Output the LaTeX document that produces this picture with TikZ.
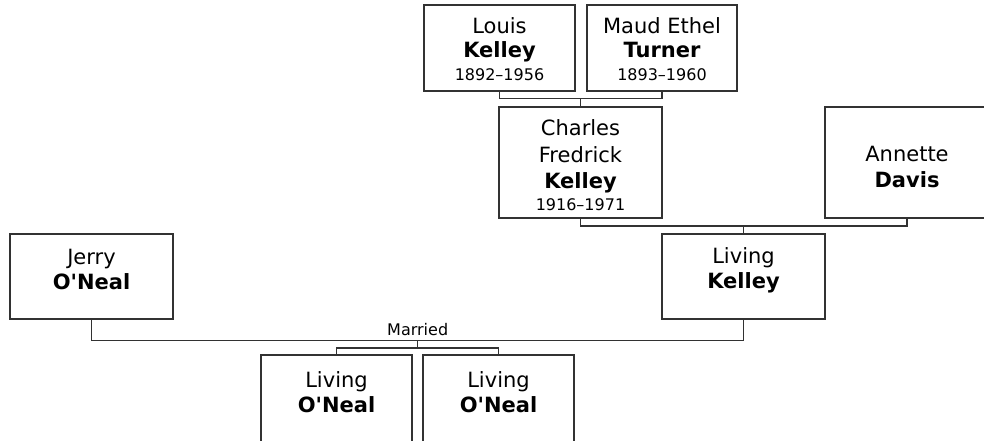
\documentclass[tikz,border=0pt]{standalone}
\usepackage{fontspec}
\setmainfont{DejaVu Sans}
\definecolor{lc}{RGB}{50,50,50}
\begin{document}
\begin{tikzpicture}[x=1pt,y=-1pt,
  box/.style={draw=lc, line width=1.4pt, fill=white, inner sep=0pt, outer sep=0pt},
  nm/.style={anchor=base, inner sep=0pt, font=\fontsize{21}{24}\selectfont},
  nb/.style={anchor=base, inner sep=0pt, font=\fontsize{21}{24}\selectfont\bfseries},
  dt/.style={anchor=base, inner sep=0pt, font=\fontsize{16}{19}\selectfont},
  conn/.style={draw=lc, line width=1.4pt}]
\useasboundingbox (0,0) rectangle (984,441);
\clip (0,0) rectangle (984,441);

% boxes
\node[box, minimum width=151pt, minimum height=86pt] (louis) at (499.5,48) {};
\node[box, minimum width=150pt, minimum height=86pt] (maud) at (662,48) {};
\node[box, minimum width=163pt, minimum height=111pt] (charles) at (580.5,162.5) {};
\node[box, minimum width=164pt, minimum height=111pt] (annette) at (907,162.5) {};
\node[box, minimum width=163pt, minimum height=85pt] (jerry) at (91.5,276.5) {};
\node[box, minimum width=163pt, minimum height=85pt] (livk) at (743.5,276.5) {};
\node[box, minimum width=151pt, minimum height=111pt] (child1) at (336.5,410.5) {};
\node[box, minimum width=151pt, minimum height=111pt] (child2) at (498.5,410.5) {};

% texts
\node[nm] (louis1) at (499.5,34) {Louis};
\node[nb] (louis2) at (499.5,58) {Kelley};
\node[dt] (louis3) at (499.5,81) {1892–1956};
\node[nm] (maud1) at (662,34) {Maud Ethel};
\node[nb] (maud2) at (662,58) {Turner};
\node[dt] (maud3) at (662,81) {1893–1960};
\node[nm] (charles1) at (580.5,135.5) {Charles};
\node[nm] (charles2) at (580.5,162) {Fredrick};
\node[nb] (charles3) at (580.5,188.5) {Kelley};
\node[dt] (charles4) at (580.5,210) {1916–1971};
\node[nm] (annette1) at (907,161) {Annette};
\node[nb] (annette2) at (907,187) {Davis};
\node[nm] (jerry1) at (91.5,264) {Jerry};
\node[nb] (jerry2) at (91.5,289) {O\textquotesingle Neal};
\node[nm] (livk1) at (743.5,263.5) {Living};
\node[nb] (livk2) at (743.5,288.5) {Kelley};
\node[nm] (child1a) at (336.5,387) {Living};
\node[nb] (child1b) at (336.5,412) {O\textquotesingle Neal};
\node[nm] (child2a) at (498.5,387) {Living};
\node[nb] (child2b) at (498.5,412) {O\textquotesingle Neal};

% connectors
\coordinate (j1) at (580.5,98.7);
\draw[conn] (louis.south) |- (j1) -| (maud.south);
\draw[conn] (j1) -- (charles.north);
\coordinate (j2) at (743.5,226);
\draw[conn] (charles.south) |- (j2) -| (annette.south);
\draw[conn] (j2) -- (livk.north);
\coordinate (j3) at (417.7,340.3);
\draw[conn] (jerry.south) |- (j3) -| (livk.south);
\coordinate (j4) at (417.7,348);
\draw[conn] (j3) -- (j4);
\draw[conn] (child1.north) |- (j4) -| (child2.north);
\node[dt] (married) at (417.7,335.5) {Married};
\end{tikzpicture}
\end{document}
